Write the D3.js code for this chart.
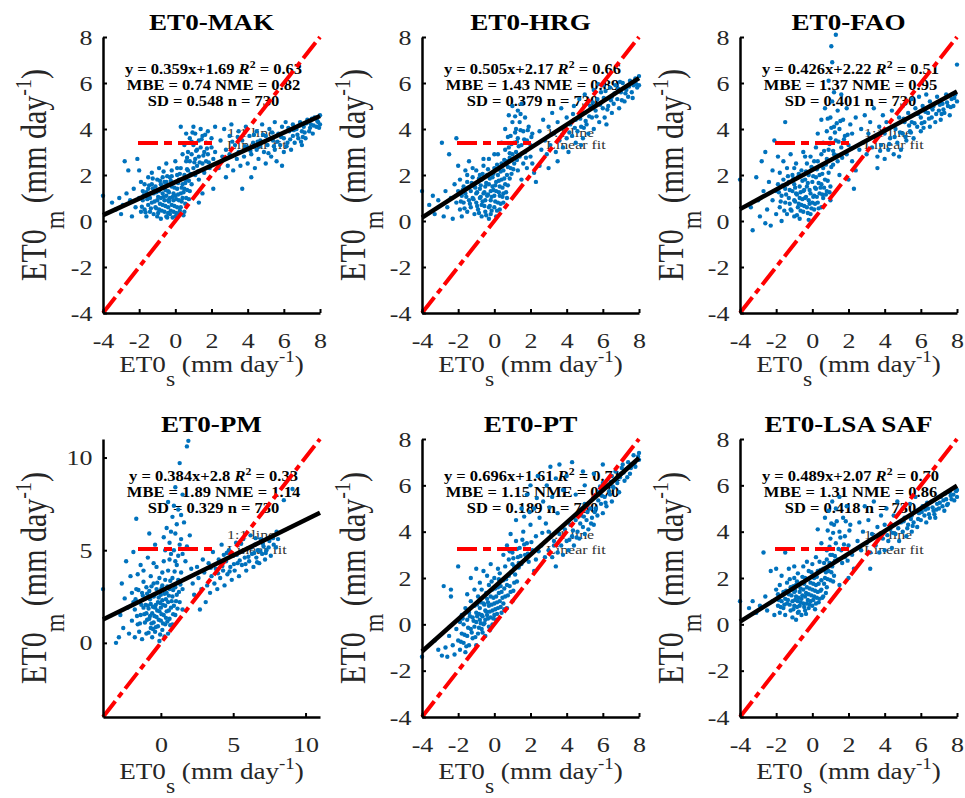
<!DOCTYPE html>
<html>
<head>
<meta charset="utf-8">
<script src="https://cdn.jsdelivr.net/npm/d3@7"></script>
<style>
  body { margin: 0; background: #fff; }
  text { font-family: "Liberation Serif", "Times New Roman", serif; }
</style>
</head>
<body>
<div id="chart"></div>
<script>
// panel titles and fit statistics
const titles = ["ET0-MAK", "ET0-HRG", "ET0-FAO", "ET0-PM", "ET0-PT", "ET0-LSA SAF"];
const slopes = [0.359, 0.505, 0.426, 0.384, 0.696, 0.489];
const intercepts = [1.69, 2.17, 2.22, 2.8, 1.61, 2.07];
const r2 = [0.63, 0.66, 0.51, 0.33, 0.71, 0.70];
const mbe = [0.74, 1.43, 1.37, 1.89, 1.15, 1.31];
const nme = [0.82, 0.89, 0.95, 1.14, 0.70, 0.86];
const sd = [0.548, 0.379, 0.401, 0.329, 0.189, 0.418];
const nObs = [730, 730, 730, 730, 730, 730];

// axis limits and ticks
const axisMin = [-4, -4, -4, -4, -4, -4];
const axisMax = [8, 8, 8, 11, 8, 8];
const ticks8 = [-4, -2, 0, 2, 4, 6, 8];
const ticks11 = [0, 5, 10];
const tickSets = [ticks8, ticks8, ticks8, ticks11, ticks8, ticks8];

// scatter points [ET0s, ET0m]
const ptsMAK = [[-4,1.1],[-3.5,0.8],[-3.3,0.5],[-3.1,1.0],[-3.0,0.3],[-2.9,0.7],[-2.8,2.6],[-2.7,1.2],[-2.6,2.2],[-2.5,0.9],[-2.4,0.2],[-2.3,1.4],[-2.2,0.6],[-2.1,2.7],[-2.0,2.2],[-2.0,1.0],[-1.9,0.4],[-1.9,1.7],
[-1.8,0.9],[-1.8,1.3],[-1.7,0.5],[-1.7,1.6],[-1.6,0.2],[-1.6,1.1],[-1.5,0.7],[-1.5,1.4],[-1.5,1.9],[-1.4,0.4],[-1.4,1.0],[-1.3,0.8],[-1.3,1.6],[-1.3,2.1],[-1.2,0.3],[-1.2,1.2],[-1.1,0.6],[-1.1,1.5],[-1.0,0.9],[-1.0,1.8],[-1.0,0.2],[-0.9,1.3],[-0.9,0.5],[-0.9,2.3],[-0.8,1.0],[-0.8,1.6],[-0.8,0.1],[-0.7,0.7],[-0.7,1.2],[-0.7,1.9],[-0.6,0.4],[-0.6,1.5],[-0.6,0.9],[-0.5,1.1],[-0.5,0.2],[-0.5,1.7],[-0.5,2.5],[-0.4,0.6],[-0.4,1.3],[-0.4,0.9],[-0.3,1.9],[-0.3,0.3],[-0.3,1.0],[-0.2,1.5],[-0.2,0.7],[-0.2,2.2],[-0.1,0.4],[-0.1,1.2],[-0.1,0.9],[0.0,1.7],[0.0,0.2],[0.0,1.1],[0.0,2.6],[0.1,0.6],[0.1,1.4],[0.1,2.0],[0.2,0.9],[0.2,1.8],[0.2,0.3],[0.3,1.2],[0.3,2.3],[0.3,0.6],[0.4,1.6],[0.4,2.9],[0.4,1.0],[0.5,2.0],[0.5,0.4],[0.5,1.4],[0.6,2.6],[0.6,1.0],[0.6,1.8],
[-1.85,0.62],[-1.75,1.12],[-1.65,0.38],[-1.55,0.95],[-1.45,1.55],[-1.35,0.55],[-1.25,1.42],[-1.15,0.85],[-1.05,1.25],[-0.95,0.35],[-0.95,1.05],[-0.85,1.75],[-0.85,0.75],[-0.75,0.45],[-0.75,1.45],[-0.65,1.05],[-0.65,2.15],[-0.55,0.65],[-0.55,1.35],[-0.45,0.15],[-0.45,1.95],[-0.35,0.85],[-0.35,1.25],[-0.25,0.45],[-0.25,1.75],[-0.15,1.05],[-0.15,0.15],[-0.05,0.65],[-0.05,1.45],[0.05,0.35],[0.05,0.95],[0.15,1.65],[0.15,1.15],[0.25,0.45],[0.25,2.05],[0.35,0.85],[0.35,1.45],[0.45,0.25],[0.45,1.25],[0.55,1.65],[0.55,0.75],[0.65,1.35],[0.65,2.25],[0.75,0.95],[0.75,1.75],[0.85,2.05],[-1.25,1.85],[-1.05,0.55],[-0.6,1.7],[-0.2,1.95],[0.1,2.3],[-1.6,1.25],[-0.4,0.35],
[0.3,4.1],[0.5,3.3],[0.6,3.8],[0.7,2.2],[0.7,3.0],[0.8,2.6],[0.8,3.6],[0.9,1.6],[0.9,2.9],[1.0,2.3],[1.0,3.3],[1.0,4.1],[1.1,2.0],[1.1,2.7],[1.1,3.8],[1.2,3.1],[1.2,2.4],[1.3,3.5],[1.3,1.8],[1.3,2.8],[1.4,4.0],[1.4,3.2],[1.5,2.5],[1.5,3.7],[1.6,2.1],[1.6,3.0],[1.7,3.4],[1.7,2.6],[1.8,3.9],[1.8,2.9],[1.9,2.3],[2.0,3.2],[2.0,3.6],[2.1,2.7],[2.2,4.1],[2.2,3.0],[1.3,0.8],[1.5,1.2],[2.1,1.4],[0.8,1.3],
[0.9,3.45],[1.15,3.05],[1.35,2.55],[1.45,3.55],[1.05,2.55],[0.95,3.85],[1.25,2.15],[1.55,2.85],[1.75,3.15],[1.65,3.75],[0.65,2.75],[1.85,2.55],
[2.4,2.3],[2.5,3.5],[2.6,2.8],[2.7,4.0],[2.8,3.1],[2.9,2.4],[3.0,3.7],[3.0,2.9],[3.1,4.2],[3.2,2.2],[3.3,3.3],[3.4,2.7],[3.5,3.9],[3.5,3.0],[3.6,2.4],[3.7,3.5],[3.8,2.8],[3.9,4.1],[4.0,3.2],[4.0,2.5],[4.1,3.7],[4.2,2.9],[4.3,3.4],[4.4,2.3],[4.5,3.9],[4.5,3.1],[4.6,2.7],[4.7,3.5],[4.8,4.2],[4.9,3.0],[5.0,2.5],[5.0,3.7],[5.1,3.3],[5.2,4.0],[5.3,2.8],[5.4,3.5],[5.5,3.1],[5.5,4.3],[5.6,2.6],[5.7,3.8],[5.8,3.3],[5.9,4.1],[6.0,3.0],[6.0,3.6],[6.1,4.3],[6.2,3.4],[6.3,3.9],[6.4,3.1],[6.5,4.2],[6.5,3.7],[6.6,3.4],[6.7,4.0],[6.8,3.6],[6.9,4.3],[7.0,3.3],[7.0,3.9],[7.1,4.1],[7.2,3.6],[7.3,4.4],[7.4,3.9],[7.5,4.2],[7.6,3.8],[7.7,4.5],[7.8,4.1],[7.9,4.3],[8.0,4.2],[8.0,4.6],[5.9,2.4],[4.2,1.9],[3.7,1.4],[2.8,1.9],
[3.15,3.45],[3.45,3.65],[3.85,3.25],[4.15,3.05],[4.35,3.75],[4.65,3.25],[4.85,3.75],[5.15,2.95],[5.35,3.85],[5.65,3.45],[5.85,3.65],[6.15,3.25],[6.35,3.55],[6.55,3.95],[6.75,3.75],[6.85,4.15],[7.05,3.65],[7.15,3.85],[7.25,4.25],[7.45,4.05],[7.55,4.45],[7.65,4.15],[7.85,4.35],[7.95,4.05],[6.95,3.45],[6.25,4.05],[5.45,3.25],[4.55,3.45]];

const ptsHRG = [[-4,1.3],[-3.6,0.7],[-3.4,1.1],[-3.3,0.3],[-3.1,0.9],[-2.9,3.4],[-2.8,0.2],[-2.7,1.3],[-2.6,0.6],[-2.5,2.9],[-2.4,1.0],[-2.3,0.1],[-2.2,1.6],[-2.1,3.6],[-2.1,0.8],[-2.0,1.3],[-2.0,2.4],
[-1.9,0.5],[-1.9,1.8],[-1.8,1.1],[-1.8,0.2],[-1.7,1.5],[-1.7,0.8],[-1.6,2.2],[-1.6,1.2],[-1.5,0.4],[-1.5,1.7],[-1.4,0.9],[-1.4,2.6],[-1.3,1.3],[-1.3,0.6],[-1.2,1.9],[-1.2,1.0],[-1.1,0.3],[-1.1,1.5],[-1.0,2.2],[-1.0,0.8],[-1.0,1.2],[-0.9,1.7],[-0.9,0.5],[-0.8,1.0],[-0.8,2.0],[-0.8,1.4],[-0.7,0.2],[-0.7,0.7],[-0.7,1.8],[-0.6,1.2],[-0.6,2.4],[-0.5,0.9],[-0.5,1.5],[-0.5,0.4],[-0.4,2.0],[-0.4,1.1],[-0.3,0.6],[-0.3,1.6],[-0.3,2.7],[-0.2,1.3],[-0.2,0.3],[-0.2,0.9],[-0.1,1.9],[-0.1,1.5],[0.0,0.6],[0.0,1.1],[0.0,2.3],[0.1,0.2],[0.1,1.7],[0.1,1.3],[0.2,0.8],[0.2,2.0],[0.2,2.9],[0.3,1.5],[0.3,0.5],[0.3,1.1],[0.4,1.8],[0.4,2.5],[0.5,1.2],[0.5,0.8],[0.5,2.2],[0.6,1.6],[0.6,3.1],[0.7,1.0],[0.7,2.0],
[-1.85,0.85],[-1.75,1.35],[-1.65,0.55],[-1.55,1.05],[-1.45,1.45],[-1.35,0.75],[-1.25,1.65],[-1.15,0.95],[-1.05,1.45],[-0.95,0.65],[-0.95,1.25],[-0.85,1.85],[-0.85,0.35],[-0.75,1.05],[-0.75,1.55],[-0.65,0.85],[-0.65,2.05],[-0.55,1.25],[-0.55,0.65],[-0.45,1.65],[-0.45,0.25],[-0.35,1.15],[-0.35,2.25],[-0.25,0.65],[-0.25,1.85],[-0.15,1.05],[-0.15,0.45],[-0.05,1.35],[-0.05,2.05],[0.05,0.85],[0.05,1.55],[0.15,0.45],[0.15,2.45],[0.25,1.25],[0.25,1.75],[0.35,0.75],[0.35,2.15],[0.45,1.45],[0.45,1.05],[0.55,1.85],[0.55,2.65],[0.65,1.25],[0.75,1.55],[0.75,2.35],[0.85,1.85],[0.85,2.75],[0.95,2.05],[-1.2,2.3],[-0.6,2.7],[0.0,2.9],[-1.5,2.0],[-0.3,0.1],
[0.4,3.4],[0.6,4.0],[0.7,2.6],[0.8,3.2],[0.8,4.6],[0.9,2.3],[0.9,3.7],[1.0,2.9],[1.0,4.3],[1.0,5.0],[1.1,3.4],[1.1,2.5],[1.2,4.0],[1.2,3.0],[1.3,4.8],[1.3,2.2],[1.3,3.6],[1.4,2.8],[1.4,4.3],[1.5,3.3],[1.5,5.1],[1.6,2.5],[1.6,3.9],[1.7,3.0],[1.7,4.5],[1.8,3.5],[1.8,2.3],[1.9,4.1],[2.0,2.8],[2.0,3.3],[2.1,3.8],[2.2,2.1],[2.3,1.7],[2.5,2.4],[1.5,1.8],[2.1,2.5],
[0.95,3.35],[1.15,3.85],[1.25,2.65],[1.35,3.25],[1.45,3.95],[1.55,2.95],[1.65,3.55],[1.75,2.75],[1.15,4.55],[1.45,4.65],[0.85,2.95],[1.05,2.25],[1.85,3.95],[2.05,3.65],[1.25,3.45],[0.75,3.65],
[2.5,3.9],[2.6,3.1],[2.7,4.4],[2.8,3.5],[2.9,2.9],[3.0,4.1],[3.1,3.3],[3.2,4.7],[3.3,3.8],[3.4,3.0],[3.5,4.3],[3.6,3.5],[3.7,4.9],[3.8,3.2],[3.9,4.0],[4.0,3.6],[4.0,4.5],[4.1,3.0],[4.2,4.2],[4.3,3.7],[4.4,5.0],[4.5,3.4],[4.5,4.4],[4.6,3.9],[4.7,5.3],[4.8,4.1],[4.9,3.6],[5.0,4.7],[5.0,5.5],[5.1,4.2],[5.2,3.8],[5.3,5.0],[5.4,4.5],[5.5,5.7],[5.5,4.0],[5.6,4.8],[5.7,5.3],[5.8,4.3],[5.9,5.6],[6.0,4.9],[6.0,5.9],[6.1,4.5],[6.2,5.3],[6.3,5.0],[6.4,5.8],[6.5,4.7],[6.5,5.4],[6.6,5.1],[6.7,5.9],[6.8,5.3],[6.9,4.9],[7.0,5.6],[7.1,6.0],[7.2,5.2],[7.3,5.7],[7.4,5.4],[7.5,6.1],[7.6,5.6],[7.7,5.9],[7.8,6.2],[7.9,5.8],[8.0,6.3],[8.0,5.9],[3.5,2.6],[3.0,2.3],[6.2,4.2],[4.8,3.3],
[4.15,3.85],[4.45,4.05],[4.75,4.45],[5.05,4.35],[5.25,4.55],[5.45,5.15],[5.65,4.55],[5.85,5.05],[6.05,5.35],[6.25,4.85],[6.45,5.25],[6.65,5.55],[6.85,5.75],[7.05,5.25],[7.25,5.55],[7.45,5.85],[7.65,5.35],[7.85,5.95],[6.15,5.65],[5.75,5.95],[6.95,6.05],[4.95,4.05],[3.75,3.75],[4.35,4.65]];

const ptsFAO = [[-4,1.8],[-3.4,0.6],[-3.3,-0.4],[-3.1,1.9],[-3.0,0.9],[-2.9,0.2],[-2.8,2.6],[-2.7,1.3],[-2.6,-0.1],[-2.6,3.0],[-2.5,0.5],[-2.4,1.7],[-2.3,-0.2],[-2.2,2.2],[-2.2,0.9],[-2.1,3.5],[-2.0,1.3],[-2.0,0.3],[-1.9,2.8],[-1.5,4.3],
[-1.9,1.6],[-1.8,0.6],[-1.8,2.1],[-1.7,1.1],[-1.7,0.0],[-1.6,1.8],[-1.6,2.6],[-1.5,0.8],[-1.5,1.4],[-1.4,0.3],[-1.4,2.3],[-1.3,1.0],[-1.3,1.7],[-1.2,0.5],[-1.2,2.9],[-1.1,1.3],[-1.1,2.0],[-1.0,0.2],[-1.0,0.9],[-1.0,1.6],[-0.9,2.5],[-0.9,1.2],[-0.8,0.6],[-0.8,1.9],[-0.7,0.1],[-0.7,1.0],[-0.7,1.5],[-0.6,2.2],[-0.6,0.7],[-0.5,1.3],[-0.5,3.0],[-0.5,0.4],[-0.4,1.8],[-0.4,1.0],[-0.3,2.5],[-0.3,0.6],[-0.3,1.5],[-0.2,0.9],[-0.2,2.0],[-0.1,1.2],[-0.1,0.3],[-0.1,2.8],[0.0,1.7],[0.0,0.8],[0.0,2.3],[0.1,1.1],[0.1,0.5],[0.2,1.9],[0.2,1.4],[0.2,3.2],[0.3,0.8],[0.3,2.6],[0.4,1.2],[0.4,2.0],[0.5,1.6],[0.5,0.6],[0.5,2.9],[0.6,1.0],[0.6,2.3],[0.7,1.8],[0.8,1.3],[0.8,2.7],[0.9,2.1],[1.0,1.5],[1.0,0.9],
[-1.85,1.25],[-1.75,0.85],[-1.65,1.55],[-1.55,0.45],[-1.45,1.15],[-1.35,1.95],[-1.25,0.75],[-1.25,1.35],[-1.15,0.45],[-1.05,1.85],[-0.95,0.85],[-0.95,1.45],[-0.85,0.25],[-0.85,1.15],[-0.75,2.05],[-0.75,0.75],[-0.65,1.25],[-0.65,0.45],[-0.55,1.75],[-0.55,0.95],[-0.45,1.35],[-0.45,0.65],[-0.35,2.15],[-0.35,1.05],[-0.25,0.35],[-0.25,1.65],[-0.15,0.75],[-0.15,1.35],[-0.05,2.35],[-0.05,0.55],[0.05,1.05],[0.05,1.95],[0.15,0.75],[0.15,1.45],[0.25,1.05],[0.25,2.25],[0.35,1.65],[0.35,0.55],[0.45,1.45],[0.55,1.15],[0.55,2.05],[0.65,1.45],[0.75,1.15],[0.75,2.45],[0.85,1.75],[0.95,1.25],[1.05,2.35],[-1.0,2.3],[-0.4,2.8],[0.1,2.6],[-1.4,1.6],[-0.2,0.05],
[1.3,8.1],[1.05,7.6],[1.1,6.9],[0.9,6.1],[1.2,5.6],[0.3,3.8],[0.5,4.4],[0.6,3.4],[0.7,4.9],[0.8,3.9],[0.9,3.1],[1.0,4.5],[1.0,3.6],[1.1,5.2],[1.2,4.1],[1.2,2.9],[1.3,3.5],[1.4,4.8],[1.4,2.6],[1.5,4.0],[1.6,3.2],[1.6,5.5],[1.7,4.4],[1.8,3.7],[1.9,2.9],[1.9,4.9],[2.0,3.3],[2.1,4.2],[2.2,2.6],[2.2,3.8],[2.4,4.5],[2.4,2.2],[2.6,3.1],[1.5,2.0],[2.0,1.8],[2.3,1.4],
[0.95,3.35],[1.15,3.05],[1.25,3.85],[1.35,2.85],[1.45,3.45],[1.55,4.35],[1.65,2.75],[1.75,3.55],[1.05,4.05],[0.85,4.45],[1.35,4.25],[1.95,3.75],[2.15,3.15],[0.65,3.05],[1.15,2.45],
[2.7,4.0],[2.8,3.4],[2.9,4.6],[3.0,2.9],[3.1,3.8],[3.2,4.3],[3.3,3.2],[3.4,4.9],[3.5,3.6],[3.6,2.8],[3.7,4.1],[3.8,3.3],[3.9,4.6],[4.0,2.7],[4.0,3.8],[4.1,4.3],[4.2,3.1],[4.3,3.6],[4.4,4.8],[4.5,2.9],[4.6,4.0],[4.7,3.4],[4.8,4.5],[4.9,3.1],[5.0,3.8],[5.0,5.0],[5.1,4.3],[5.2,3.5],[5.3,4.7],[5.4,3.9],[5.5,5.3],[5.5,4.3],[5.6,3.6],[5.7,4.9],[5.8,4.1],[5.9,5.4],[6.0,4.5],[6.0,3.9],[6.1,5.0],[6.2,4.3],[6.3,5.5],[6.4,4.7],[6.5,4.1],[6.5,5.2],[6.6,4.5],[6.7,5.0],[6.8,4.3],[6.9,5.4],[7.0,4.8],[7.1,4.4],[7.2,5.1],[7.3,4.7],[7.4,5.5],[7.5,5.0],[7.6,4.6],[7.7,5.3],[7.8,5.0],[7.9,5.5],[8.0,6.8],[8.0,5.2],[3.6,2.3],[4.8,2.8],
[4.25,3.35],[4.55,3.65],[4.85,3.85],[5.15,3.65],[5.35,4.15],[5.65,4.25],[5.85,4.65],[6.05,4.25],[6.25,4.75],[6.45,4.45],[6.65,4.85],[6.85,4.65],[7.05,5.05],[7.25,4.85],[7.45,5.15],[7.65,4.95],[7.85,5.35],[6.15,4.05],[6.55,4.95],[7.15,4.65],[3.75,3.05],[5.05,4.45],[5.45,3.85]];

const ptsPM = [[-4,2.9],[-3.1,0.0],[-2.9,0.3],[-2.8,1.5],[-2.7,3.2],[-2.6,0.8],[-2.5,2.4],[-2.4,4.4],[-2.3,1.9],[-2.2,0.5],[-2.1,3.6],[-2.0,1.2],[-2.0,2.7],[-1.7,6.7],[-1.9,4.9],[-1.8,0.3],
[-1.8,1.8],[-1.7,2.9],[-1.6,1.0],[-1.6,3.7],[-1.5,2.2],[-1.5,0.6],[-1.4,1.5],[-1.4,4.2],[-1.3,2.7],[-1.3,0.2],[-1.2,1.9],[-1.2,3.3],[-1.1,1.1],[-1.1,2.4],[-1.0,0.5],[-1.0,3.0],[-1.0,1.6],[-0.9,2.0],[-0.9,4.6],[-0.8,1.3],[-0.8,2.8],[-0.7,0.8],[-0.7,3.6],[-0.7,2.1],[-0.6,1.6],[-0.6,0.3],[-0.5,2.5],[-0.5,1.1],[-0.5,3.2],[-0.4,1.9],[-0.4,0.6],[-0.3,2.9],[-0.3,1.4],[-0.3,4.1],[-0.2,2.2],[-0.2,0.9],[-0.1,1.7],[-0.1,3.5],[-0.1,0.1],[0.0,2.6],[0.0,1.2],[0.0,1.9],[0.1,3.1],[0.1,0.7],[0.1,2.3],[0.2,1.5],[0.2,4.4],[0.3,2.0],[0.3,1.0],[0.3,3.4],[0.4,2.7],[0.4,1.7],[0.5,0.5],[0.5,2.2],[0.5,3.9],[0.6,1.3],[0.6,2.9],[0.7,1.9],[0.7,4.8],[0.8,2.5],[0.8,1.0],[0.8,3.5],[0.9,2.0],[1.0,3.0],[1.0,1.5],[1.1,2.6],[1.1,4.2],[1.2,3.4],[1.3,2.2],[1.4,3.8],[1.5,1.8],[1.5,2.9],
[-1.75,2.35],[-1.65,1.45],[-1.55,2.85],[-1.45,1.05],[-1.35,2.05],[-1.25,2.55],[-1.15,1.55],[-1.05,2.05],[-0.95,1.25],[-0.95,2.65],[-0.85,0.55],[-0.85,1.85],[-0.75,2.35],[-0.75,1.45],[-0.65,3.05],[-0.65,1.05],[-0.55,1.95],[-0.55,0.75],[-0.45,2.55],[-0.45,1.45],[-0.35,2.05],[-0.35,0.85],[-0.25,1.75],[-0.25,3.25],[-0.15,2.45],[-0.15,1.25],[-0.05,0.45],[-0.05,2.15],[0.05,1.55],[0.05,2.95],[0.15,1.05],[0.15,2.05],[0.25,2.65],[0.25,0.35],[0.35,1.35],[0.35,2.35],[0.45,3.05],[0.45,1.15],[0.55,1.75],[0.55,2.55],[0.65,3.35],[0.65,0.95],[0.75,2.25],[0.85,1.55],[0.85,2.85],[0.95,3.85],[1.05,2.25],[1.15,1.85],[1.25,2.75],[1.35,3.15],[-1.2,3.9],[-0.5,4.3],[0.1,3.8],[-1.9,2.2],
[1.9,10.9],[1.8,10.6],[1.3,9.7],[1.0,8.4],[1.5,8.0],[0.5,7.6],[1.2,7.2],[0.8,6.8],[1.6,6.5],[0.4,6.2],[1.0,5.9],[1.4,5.6],[0.6,5.4],[1.8,5.2],[0.9,5.0],[1.2,4.7],[1.7,4.4],[2.0,5.8],[2.1,4.0],[-0.4,5.3],[-0.8,5.9],[0.2,5.7],
[0.6,4.5],[1.0,4.4],[1.3,5.3],[0.7,6.0],[1.1,6.4],[0.3,5.0],[1.5,4.8],[0.9,7.4],[1.4,6.9],
[2.2,3.2],[2.3,2.6],[2.5,4.1],[2.6,3.5],[2.8,2.9],[2.9,4.5],[3.0,3.8],[3.2,3.1],[3.3,4.3],[3.4,2.7],[3.5,3.6],[3.6,4.9],[3.7,3.2],[3.8,4.0],[3.9,2.9],[4.0,4.5],[4.1,3.5],[4.2,5.3],[4.3,3.9],[4.4,3.1],[4.5,4.4],[4.6,3.7],[4.7,5.0],[4.8,4.1],[4.9,3.4],[5.0,4.7],[5.1,3.9],[5.2,5.4],[5.3,4.3],[5.4,3.6],[5.5,4.9],[5.6,4.2],[5.7,5.6],[5.8,4.6],[5.9,3.9],[6.0,5.1],[6.1,4.4],[6.2,5.8],[6.3,4.8],[6.4,4.1],[6.5,5.3],[6.6,4.6],[6.7,5.0],[6.8,4.3],[6.9,5.6],[7.0,4.8],[7.1,5.2],[7.2,4.5],[7.3,5.0],[7.5,5.5],[7.6,4.7],[7.8,5.3],[8.0,6.0],[8.1,5.6],[8.5,7.7],[9.1,8.3],[2.7,1.8],[3.1,2.2],
[3.45,4.05],[3.95,3.75],[4.25,4.15],[4.55,4.85],[4.75,3.85],[5.05,4.25],[5.25,4.75],[5.45,4.45],[5.65,4.95],[5.85,4.25],[6.05,4.65],[6.25,5.15],[6.45,4.85],[6.65,4.35],[6.85,4.95],[7.05,5.35],[7.25,4.85],[7.45,5.15],[7.75,5.65],[4.35,4.75],[5.55,5.35],[6.55,5.65],[7.95,5.15]];

const ptsPT = [[-4,-1.4],[-3.3,-0.7],[-3.1,-1.1],[-2.9,-1.35],[-2.8,1.65],[-2.7,-1.0],[-2.6,-1.4],[-2.5,-0.5],[-2.4,1.5],[-2.4,1.2],[-2.3,-0.9],[-2.2,-1.3],[-2.1,-0.2],[-2.0,2.5],[-2.0,-0.7],[-1.9,0.1],
[-1.9,-1.1],[-1.8,-0.4],[-1.8,0.4],[-1.7,-0.8],[-1.7,0.0],[-1.6,-1.2],[-1.6,0.7],[-1.5,-0.5],[-1.5,0.2],[-1.4,-0.9],[-1.4,0.5],[-1.3,-0.2],[-1.3,1.0],[-1.2,-0.6],[-1.2,0.3],[-1.1,0.8],[-1.1,-0.1],[-1.0,-0.9],[-1.0,0.5],[-1.0,0.1],[-0.9,1.2],[-0.9,-0.4],[-0.8,0.2],[-0.8,0.7],[-0.7,-0.2],[-0.7,0.4],[-0.7,1.5],[-0.6,0.0],[-0.6,0.9],[-0.5,-0.5],[-0.5,0.6],[-0.5,0.2],[-0.4,1.1],[-0.4,0.4],[-0.3,-0.1],[-0.3,0.8],[-0.3,1.7],[-0.2,0.3],[-0.2,1.2],[-0.1,0.6],[-0.1,0.0],[-0.1,1.5],[0.0,0.9],[0.0,0.4],[0.0,2.0],[0.1,1.2],[0.1,0.2],[0.2,0.7],[0.2,1.6],[0.3,1.0],[0.3,2.2],[0.4,0.5],[0.4,1.4],[0.5,1.9],[0.5,0.9],[0.6,1.2],[0.6,2.5],[0.7,1.7],[0.7,0.7],[0.8,2.1],[0.9,1.4],[1.0,2.6],[1.0,1.0],[1.1,1.8],[-1.5,1.3],[-1.3,2.0],[-1.0,2.4],[-0.6,2.3],[-0.2,2.6],
[-1.85,-0.75],[-1.75,0.25],[-1.65,-0.45],[-1.55,-0.95],[-1.45,-0.15],[-1.35,0.35],[-1.25,-0.35],[-1.15,0.15],[-1.05,-0.55],[-0.95,0.35],[-0.95,0.85],[-0.85,-0.15],[-0.85,0.45],[-0.75,0.05],[-0.75,0.95],[-0.65,0.35],[-0.65,-0.35],[-0.55,0.85],[-0.55,0.05],[-0.45,0.55],[-0.45,1.35],[-0.35,0.25],[-0.35,0.95],[-0.25,0.55],[-0.25,-0.25],[-0.15,0.85],[-0.15,1.85],[-0.05,0.25],[-0.05,1.15],[0.05,0.65],[0.05,1.55],[0.15,0.95],[0.15,0.45],[0.25,1.35],[0.25,1.95],[0.35,0.75],[0.35,1.65],[0.45,1.15],[0.55,1.55],[0.55,0.65],[0.65,1.95],[0.75,1.25],[0.85,1.65],[0.95,2.25],[1.05,1.45],[1.15,2.15],[1.25,1.85],[1.35,2.45],[-1.1,1.5],[-0.8,1.8],[-0.4,2.1],[0.2,2.4],
[0.5,3.0],[0.7,3.4],[0.8,2.8],[0.9,3.9],[1.0,3.1],[1.1,2.5],[1.2,3.6],[1.2,4.5],[1.3,2.9],[1.4,3.3],[1.5,5.0],[1.5,2.6],[1.6,4.0],[1.7,3.0],[1.8,5.6],[1.8,3.5],[1.9,2.7],[2.0,4.3],[2.0,6.0],[2.1,3.2],[2.2,5.0],[2.3,2.8],[2.3,3.8],[2.4,6.4],[2.5,4.6],[2.6,3.4],[2.7,5.3],[2.8,2.9],[2.9,6.0],[3.0,4.0],[3.1,6.8],[3.2,5.5],[3.3,3.4],[3.4,6.3],[3.5,4.8],[3.6,6.9],[3.8,5.8],[4.0,6.4],[4.3,7.0],[2.2,2.3],
[0.85,3.15],[1.05,2.85],[1.25,3.25],[1.45,2.95],[1.65,3.45],[1.85,3.05],[1.35,2.65],[1.55,3.65],[1.75,2.85],[2.05,3.55],[2.45,3.15],[2.65,3.95],[1.95,4.85],[2.85,4.35],[3.05,5.05],[2.35,5.45],[1.65,4.65],
[3.0,3.2],[3.2,2.9],[3.3,3.6],[3.5,3.1],[3.6,3.9],[3.7,3.4],[3.8,3.0],[3.9,4.1],[4.0,3.6],[4.1,3.2],[4.2,4.3],[4.3,3.8],[4.4,3.4],[4.5,4.5],[4.6,4.0],[4.7,3.7],[4.8,4.7],[4.9,4.2],[5.0,3.9],[5.0,5.2],[5.1,4.5],[5.2,4.1],[5.3,5.0],[5.4,4.6],[5.5,5.5],[5.5,4.3],[5.6,5.0],[5.7,4.7],[5.8,5.7],[5.9,5.2],[6.0,4.8],[6.0,6.1],[6.1,5.5],[6.2,5.1],[6.3,6.0],[6.4,5.6],[6.5,6.4],[6.5,5.3],[6.6,5.9],[6.7,6.6],[6.8,6.1],[6.9,5.7],[7.0,6.5],[7.1,6.9],[7.2,6.2],[7.3,6.7],[7.4,7.0],[7.5,6.5],[7.6,6.9],[7.7,7.3],[7.8,6.8],[8.0,7.1],[8.0,7.4],[5.0,6.0],[5.5,6.5],[6.0,6.9],[4.5,5.6],[4.9,6.6],[3.4,2.5],
[4.15,3.65],[4.35,4.05],[4.55,3.75],[4.75,4.35],[4.95,4.65],[5.15,4.85],[5.35,4.35],[5.55,4.85],[5.75,5.35],[5.95,5.55],[6.15,5.25],[6.35,5.75],[6.55,5.95],[6.75,6.25],[6.95,6.35],[7.15,6.55],[7.35,6.35],[7.55,6.75],[7.75,6.95],[7.95,7.25],[6.45,6.15],[5.85,5.95],[7.05,6.75]];

const ptsLSA = [[-4,1.0],[-3.5,0.7],[-3.3,1.0],[-3.1,0.5],[-2.9,0.8],[-2.7,3.1],[-2.6,1.2],[-2.5,0.6],[-2.3,2.3],[-2.2,1.0],[-2.1,0.4],[-2.0,1.5],[-2.0,2.4],
[-1.9,0.8],[-1.9,1.3],[-1.8,0.5],[-1.8,1.7],[-1.7,1.0],[-1.7,2.1],[-1.6,0.7],[-1.6,1.4],[-1.5,1.1],[-1.5,0.4],[-1.4,1.8],[-1.4,0.9],[-1.3,1.3],[-1.3,2.4],[-1.2,0.6],[-1.2,1.6],[-1.1,1.0],[-1.1,0.3],[-1.0,1.4],[-1.0,2.0],[-1.0,0.8],[-0.9,1.2],[-0.9,1.7],[-0.8,0.5],[-0.8,1.0],[-0.8,2.2],[-0.7,1.4],[-0.7,0.8],[-0.6,1.8],[-0.6,1.1],[-0.6,0.4],[-0.5,1.5],[-0.5,0.9],[-0.5,2.5],[-0.4,1.2],[-0.4,0.6],[-0.4,2.0],[-0.3,1.6],[-0.3,0.9],[-0.2,1.3],[-0.2,2.3],[-0.2,0.7],[-0.1,1.8],[-0.1,1.0],[0.0,1.5],[0.0,0.8],[0.0,2.6],[0.1,1.2],[0.1,2.0],[0.2,1.7],[0.2,0.9],[0.3,2.3],[0.3,1.4],[0.4,1.1],[0.4,2.7],[0.5,1.9],[0.5,1.5],[0.6,2.4],[0.6,1.2],[0.7,2.0],[0.8,2.8],[0.8,1.6],[0.9,2.3],[1.0,1.9],[1.0,3.0],[1.1,2.5],[1.2,2.1],[-1.5,3.1],[-0.9,0.2],
[-1.85,1.05],[-1.75,0.75],[-1.65,1.25],[-1.55,0.85],[-1.45,1.45],[-1.35,1.05],[-1.25,0.85],[-1.25,1.95],[-1.15,1.25],[-1.05,0.65],[-1.05,1.65],[-0.95,1.05],[-0.95,1.45],[-0.85,0.75],[-0.85,1.85],[-0.75,1.15],[-0.75,0.55],[-0.65,1.55],[-0.65,0.95],[-0.55,1.25],[-0.55,2.05],[-0.45,0.75],[-0.45,1.75],[-0.35,1.35],[-0.35,0.45],[-0.25,1.05],[-0.25,1.95],[-0.15,0.85],[-0.15,1.55],[-0.05,1.25],[-0.05,2.25],[0.05,1.05],[0.05,1.75],[0.15,1.45],[0.15,0.65],[0.25,1.15],[0.25,2.05],[0.35,1.75],[0.35,0.95],[0.45,1.45],[0.45,2.35],[0.55,1.15],[0.65,1.75],[0.65,2.65],[0.75,1.35],[0.75,2.25],[0.85,1.95],[0.95,2.65],[1.05,2.25],[1.15,1.85],[1.25,2.75],[-0.3,2.7],[-1.0,2.5],[0.2,2.9],
[0.3,4.1],[0.5,3.5],[0.7,4.6],[0.8,3.2],[0.9,4.9],[1.0,3.7],[1.1,5.3],[1.1,3.0],[1.2,4.3],[1.3,3.5],[1.3,5.0],[1.4,2.8],[1.5,4.0],[1.5,5.5],[1.6,3.2],[1.7,4.6],[1.8,2.9],[1.8,3.8],[1.9,5.1],[2.0,3.4],[2.1,4.3],[2.2,3.0],[2.3,2.4],[2.0,2.0],[1.5,1.7],
[0.95,3.35],[1.15,3.95],[1.25,2.95],[1.35,4.45],[1.45,3.25],[1.55,3.75],[1.65,2.65],[1.75,3.45],[1.05,4.35],[0.85,4.05],[1.95,2.75],[2.05,4.05],[1.85,4.45],
[2.5,3.6],[2.6,4.4],[2.7,3.2],[2.8,4.0],[2.9,5.1],[3.0,3.5],[3.1,4.5],[3.2,2.4],[3.2,3.1],[3.3,3.9],[3.4,5.3],[3.5,3.4],[3.6,4.2],[3.7,3.1],[3.8,4.7],[3.9,3.7],[4.0,3.2],[4.0,4.3],[4.1,5.0],[4.2,3.6],[4.3,4.1],[4.4,3.3],[4.5,4.7],[4.6,3.9],[4.7,5.3],[4.8,3.6],[4.9,4.4],[5.0,4.0],[5.0,5.0],[5.1,4.6],[5.2,3.8],[5.3,4.3],[5.4,5.2],[5.5,4.0],[5.5,4.7],[5.6,4.4],[5.7,5.5],[5.8,4.2],[5.9,4.8],[6.0,4.5],[6.1,5.1],[6.2,4.7],[6.3,4.4],[6.4,5.0],[6.5,4.6],[6.6,5.3],[6.7,4.9],[6.8,4.6],[6.9,5.2],[7.0,5.0],[7.1,5.5],[7.2,5.1],[7.3,4.9],[7.4,5.4],[7.5,5.2],[7.6,5.7],[7.7,5.4],[7.8,5.6],[8.0,5.8],[8.0,5.5],
[4.15,3.85],[4.45,3.95],[4.75,4.15],[5.05,4.45],[5.25,4.15],[5.45,4.55],[5.65,4.85],[5.85,4.55],[6.05,4.85],[6.25,4.95],[6.45,4.75],[6.65,5.05],[6.85,4.95],[7.05,5.25],[7.25,5.35],[7.45,5.15],[7.65,5.55],[7.85,5.35],[7.95,5.75],[6.35,5.25],[5.55,4.25],[6.75,4.75],[7.35,5.65]];

const pointSets = [ptsMAK, ptsHRG, ptsFAO, ptsPM, ptsPT, ptsLSA];

// layout
const W = 965, H = 798;
const colX = [103, 422, 740];
const rowY = [37, 439];
const pw = 217;
const ph = [276, 278];
const SX = 1.18; // lettering in the figure is stretched sideways
const blue = "#0072BD", red = "#FF0000";

const svg = d3.select("#chart").append("svg")
  .attr("width", W).attr("height", H);

function addUnitLabel(t, sub, subShift, subSize, supShift, supSize) {
  t.append("tspan").text("ET0");
  t.append("tspan").attr("dy", subShift).attr("font-size", subSize).text(sub);
  t.append("tspan").attr("dy", -subShift).text(" (mm day");
  t.append("tspan").attr("dy", -supShift).attr("font-size", supSize).text("-1");
  t.append("tspan").attr("dy", supShift).text(")");
}

titles.forEach(function(name, i) {
  const c = i % 3, r = Math.floor(i / 3);
  const h = ph[r];
  const g = svg.append("g").attr("transform", "translate(" + colX[c] + "," + rowY[r] + ")");

  const x = d3.scaleLinear().domain([axisMin[i], axisMax[i]]).range([0, pw]);
  const y = d3.scaleLinear().domain([axisMin[i], axisMax[i]]).range([h, 0]);

  // stats text (drawn first, the points sit on top of it)
  const statsY = r === 0 ? 37 : 42;
  const st = g.append("g").attr("font-weight", "bold").attr("font-size", 14).attr("fill", "#000");
  const l1 = st.append("text").attr("text-anchor", "middle")
    .attr("transform", "translate(" + (pw / 2 + 2) + "," + statsY + ") scale(" + SX + ",1)");
  l1.append("tspan").text("y = " + slopes[i].toFixed(3) + "x+" + intercepts[i] + " ");
  l1.append("tspan").attr("font-style", "italic").text("R");
  l1.append("tspan").attr("dy", -6).attr("font-size", 10).text("2");
  l1.append("tspan").attr("dy", 6).text(" = " + r2[i].toFixed(2));
  st.append("text").attr("text-anchor", "middle")
    .attr("transform", "translate(" + (pw / 2 + 2) + "," + (statsY + 16) + ") scale(" + SX + ",1)")
    .text("MBE = " + mbe[i].toFixed(2) + " NME = " + nme[i].toFixed(2));
  st.append("text").attr("text-anchor", "middle")
    .attr("transform", "translate(" + (pw / 2 + 2) + "," + (statsY + 32) + ") scale(" + SX + ",1)")
    .text("SD = " + sd[i].toFixed(3) + " n = " + nObs[i]);

  // legend text
  const legY = r === 0 ? [100, 112, 106] : [100, 115, 110];
  const lg = g.append("g").attr("font-size", 13.5).attr("fill", "#333");
  lg.append("text").attr("transform", "translate(124," + legY[0] + ") scale(" + SX + ",1)").text("1:1 line");
  lg.append("text").attr("transform", "translate(124," + legY[1] + ") scale(" + SX + ",1)").text("Linear fit");

  // points
  g.append("g").selectAll("circle")
    .data(pointSets[i])
    .enter()
    .append("circle")
    .attr("cx", function(d) { return x(d[0]); })
    .attr("cy", function(d) { return y(d[1]); })
    .attr("r", 2.2)
    .attr("fill", blue);

  // legend sample
  g.append("line")
    .attr("x1", 35).attr("x2", 112).attr("y1", legY[2]).attr("y2", legY[2])
    .attr("stroke", red).attr("stroke-width", 4).attr("stroke-dasharray", "20,6,8,6");

  // 1:1 line
  g.append("line")
    .attr("x1", x(axisMin[i])).attr("y1", y(axisMin[i]))
    .attr("x2", x(axisMax[i])).attr("y2", y(axisMax[i]))
    .attr("stroke", red).attr("stroke-width", 4).attr("stroke-dasharray", "20,5,6,5");

  // linear fit
  g.append("line")
    .attr("x1", x(axisMin[i])).attr("y1", y(slopes[i] * axisMin[i] + intercepts[i]))
    .attr("x2", x(axisMax[i])).attr("y2", y(slopes[i] * axisMax[i] + intercepts[i]))
    .attr("stroke", "#000").attr("stroke-width", 4.5);

  // axes
  const fmt = function(d) { return String(d); };
  const xa = g.append("g").attr("transform", "translate(0," + h + ")")
    .call(d3.axisBottom(x).tickValues(tickSets[i]).tickFormat(fmt).tickSizeInner(-4).tickSizeOuter(0).tickPadding(19));
  const ya = g.append("g")
    .call(d3.axisLeft(y).tickValues(tickSets[i]).tickFormat(fmt).tickSizeInner(-4).tickSizeOuter(0).tickPadding(9));
  [xa, ya].forEach(function(a) {
    a.select(".domain").attr("stroke", "#000").attr("stroke-width", 2.5);
    a.selectAll(".tick line").attr("stroke", "#000").attr("stroke-width", 2);
    a.selectAll(".tick text")
      .attr("font-family", "'Liberation Serif', 'Times New Roman', serif")
      .attr("font-size", 22).attr("fill", "#262626")
      .attr("transform", "scale(" + SX + ",1)");
  });

  // title
  g.append("text").attr("text-anchor", "middle").attr("font-weight", "bold").attr("font-size", 23)
    .attr("transform", "translate(" + (pw / 2) + ",-7) scale(" + SX + ",1)")
    .text(name);

  // x label
  const xl = g.append("text").attr("text-anchor", "middle").attr("font-size", 23).attr("fill", "#262626")
    .attr("transform", "translate(" + (pw / 2) + "," + (h + (r === 0 ? 59 : 62)) + ") scale(" + SX + ",1)");
  addUnitLabel(xl, "s", 14, 20, 10, 16);

  // y label
  const yl = g.append("text").attr("text-anchor", "middle").attr("font-size", 30).attr("fill", "#262626")
    .attr("transform", "translate(-57," + (h / 2) + ") scale(" + SX + ",1) rotate(-90)");
  addUnitLabel(yl, "m", 15, 24, 13, 20);
});
</script>
</body>
</html>
